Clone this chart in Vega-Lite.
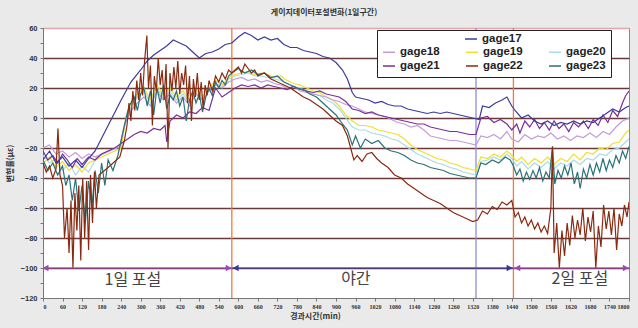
{
"$schema":"https://vega.github.io/schema/vega-lite/v6.json",
"width":586,"height":270,
"autosize":{"type":"none"},
"padding":{"left":43,"top":28,"right":9,"bottom":30},
"background":"#eaeaea",
"title":{"text":"게이지데이터포설변화(1일구간)","fontSize":8,"fontWeight":"bold","color":"#333","offset":7,"anchor":"middle","dx":-12,"font":"Noto Sans CJK KR"},
"config":{"view":{"fill":"white","stroke":"#8a8a8a","strokeWidth":1},
"axis":{"labelFont":"Liberation Sans","labelFontWeight":"bold","labelColor":"#333","domainColor":"#777","tickColor":"#777","titleFont":"Noto Sans CJK KR","titleFontWeight":"bold","titleColor":"#333","titleFontSize":8,"labelOverlap":false,"labelBound":false}},
"datasets":{
"vlines":[{"t":580,"v":-120,"v2":60,"c":"#f07a3a"},{"t":1330,"v":-120,"v2":60,"c":"#8e8ed4"},{"t":1445,"v":-120,"v2":60,"c":"#f07a3a"}],
"arrows":[{"t":0,"t2":580,"v":-100,"c":"#a344b8"},{"t":580,"t2":1445,"v":-100,"c":"#3636a6"},{"t":1445,"t2":1800,"v":-100,"c":"#a344b8"}],
"heads":[{"t":8,"v":-100,"sh":"triangle-left","c":"#a344b8"},{"t":570,"v":-100,"sh":"triangle-right","c":"#a344b8"},{"t":592,"v":-100,"sh":"triangle-left","c":"#3636a6"},{"t":1433,"v":-100,"sh":"triangle-right","c":"#3636a6"},{"t":1457,"v":-100,"sh":"triangle-left","c":"#a344b8"},{"t":1790,"v":-100,"sh":"triangle-right","c":"#a344b8"}],
"labels":[{"t":276,"v":-108,"txt":"1일 포설"},{"t":961,"v":-107,"txt":"야간"},{"t":1649,"v":-107,"txt":"2일 포설"}],
"g17":[
{"s":"gage17","t":0,"v":-28},{"s":"gage17","t":20,"v":-22},{"s":"gage17","t":40,"v":-30},{"s":"gage17","t":60,"v":-26},{"s":"gage17","t":80,"v":-32},{"s":"gage17","t":100,"v":-28},{"s":"gage17","t":120,"v":-33},{"s":"gage17","t":140,"v":-27},{"s":"gage17","t":160,"v":-22},{"s":"gage17","t":200,"v":-5},{"s":"gage17","t":240,"v":12},{"s":"gage17","t":270,"v":24},{"s":"gage17","t":300,"v":32},{"s":"gage17","t":320,"v":38},{"s":"gage17","t":340,"v":42},{"s":"gage17","t":360,"v":45},{"s":"gage17","t":380,"v":48},{"s":"gage17","t":400,"v":52},{"s":"gage17","t":420,"v":50},{"s":"gage17","t":440,"v":48},{"s":"gage17","t":460,"v":44},{"s":"gage17","t":480,"v":40},{"s":"gage17","t":500,"v":43},{"s":"gage17","t":520,"v":44},{"s":"gage17","t":540,"v":46},{"s":"gage17","t":560,"v":49},{"s":"gage17","t":580,"v":50},{"s":"gage17","t":600,"v":54},{"s":"gage17","t":620,"v":57},{"s":"gage17","t":640,"v":55},{"s":"gage17","t":660,"v":52},{"s":"gage17","t":680,"v":54},{"s":"gage17","t":700,"v":52},{"s":"gage17","t":720,"v":53},{"s":"gage17","t":740,"v":49},{"s":"gage17","t":760,"v":47},{"s":"gage17","t":780,"v":47},{"s":"gage17","t":800,"v":45},{"s":"gage17","t":820,"v":44},{"s":"gage17","t":840,"v":43},{"s":"gage17","t":860,"v":41},{"s":"gage17","t":880,"v":40},{"s":"gage17","t":900,"v":37},{"s":"gage17","t":920,"v":32},{"s":"gage17","t":935,"v":26},{"s":"gage17","t":950,"v":17},{"s":"gage17","t":960,"v":14},{"s":"gage17","t":980,"v":13},{"s":"gage17","t":1000,"v":12},{"s":"gage17","t":1020,"v":10},{"s":"gage17","t":1040,"v":11},{"s":"gage17","t":1060,"v":9},{"s":"gage17","t":1080,"v":8},{"s":"gage17","t":1100,"v":8},{"s":"gage17","t":1120,"v":6},{"s":"gage17","t":1140,"v":5},{"s":"gage17","t":1160,"v":4},{"s":"gage17","t":1180,"v":3},{"s":"gage17","t":1200,"v":4},{"s":"gage17","t":1220,"v":3},{"s":"gage17","t":1240,"v":4},{"s":"gage17","t":1260,"v":3},{"s":"gage17","t":1280,"v":2},{"s":"gage17","t":1300,"v":1},{"s":"gage17","t":1320,"v":0},{"s":"gage17","t":1340,"v":-1},{"s":"gage17","t":1350,"v":8},{"s":"gage17","t":1370,"v":7},{"s":"gage17","t":1390,"v":10},{"s":"gage17","t":1410,"v":12},{"s":"gage17","t":1425,"v":14},{"s":"gage17","t":1440,"v":8},{"s":"gage17","t":1450,"v":5},{"s":"gage17","t":1470,"v":0},{"s":"gage17","t":1490,"v":2},{"s":"gage17","t":1510,"v":-2},{"s":"gage17","t":1530,"v":-4},{"s":"gage17","t":1550,"v":-2},{"s":"gage17","t":1570,"v":-5},{"s":"gage17","t":1590,"v":-3},{"s":"gage17","t":1610,"v":-4},{"s":"gage17","t":1630,"v":-2},{"s":"gage17","t":1650,"v":-4},{"s":"gage17","t":1670,"v":-2},{"s":"gage17","t":1690,"v":-3},{"s":"gage17","t":1710,"v":0},{"s":"gage17","t":1730,"v":3},{"s":"gage17","t":1750,"v":6},{"s":"gage17","t":1770,"v":4},{"s":"gage17","t":1790,"v":7},{"s":"gage17","t":1800,"v":8}],
"others":[
{"s":"gage20","t":0,"v":-25},{"s":"gage20","t":20,"v":-30},{"s":"gage20","t":40,"v":-27},{"s":"gage20","t":60,"v":-35},{"s":"gage20","t":80,"v":-30},{"s":"gage20","t":100,"v":-38},{"s":"gage20","t":120,"v":-32},{"s":"gage20","t":140,"v":-36},{"s":"gage20","t":166,"v":-26},{"s":"gage20","t":236,"v":-19},{"s":"gage20","t":255,"v":-2},{"s":"gage20","t":270,"v":8},{"s":"gage20","t":290,"v":14},{"s":"gage20","t":310,"v":18},{"s":"gage20","t":330,"v":10},{"s":"gage20","t":350,"v":20},{"s":"gage20","t":370,"v":13},{"s":"gage20","t":390,"v":18},{"s":"gage20","t":410,"v":12},{"s":"gage20","t":430,"v":16},{"s":"gage20","t":450,"v":10},{"s":"gage20","t":470,"v":17},{"s":"gage20","t":490,"v":12},{"s":"gage20","t":510,"v":18},{"s":"gage20","t":530,"v":23},{"s":"gage20","t":550,"v":21},{"s":"gage20","t":570,"v":26},{"s":"gage20","t":590,"v":28},{"s":"gage20","t":610,"v":29},{"s":"gage20","t":630,"v":30},{"s":"gage20","t":650,"v":28},{"s":"gage20","t":670,"v":28},{"s":"gage20","t":690,"v":27},{"s":"gage20","t":710,"v":26},{"s":"gage20","t":730,"v":25},{"s":"gage20","t":750,"v":23},{"s":"gage20","t":770,"v":21},{"s":"gage20","t":790,"v":20},{"s":"gage20","t":810,"v":18},{"s":"gage20","t":830,"v":16},{"s":"gage20","t":850,"v":15},{"s":"gage20","t":870,"v":12},{"s":"gage20","t":890,"v":10},{"s":"gage20","t":910,"v":6},{"s":"gage20","t":930,"v":0},{"s":"gage20","t":950,"v":-6},{"s":"gage20","t":970,"v":-8},{"s":"gage20","t":990,"v":-8},{"s":"gage20","t":1010,"v":-10},{"s":"gage20","t":1030,"v":-11},{"s":"gage20","t":1050,"v":-12},{"s":"gage20","t":1070,"v":-14},{"s":"gage20","t":1090,"v":-15},{"s":"gage20","t":1110,"v":-18},{"s":"gage20","t":1130,"v":-21},{"s":"gage20","t":1150,"v":-24},{"s":"gage20","t":1170,"v":-26},{"s":"gage20","t":1190,"v":-28},{"s":"gage20","t":1210,"v":-30},{"s":"gage20","t":1230,"v":-31},{"s":"gage20","t":1250,"v":-33},{"s":"gage20","t":1270,"v":-34},{"s":"gage20","t":1290,"v":-36},{"s":"gage20","t":1310,"v":-37},{"s":"gage20","t":1330,"v":-38},{"s":"gage20","t":1345,"v":-29},{"s":"gage20","t":1365,"v":-28},{"s":"gage20","t":1385,"v":-26},{"s":"gage20","t":1405,"v":-28},{"s":"gage20","t":1425,"v":-24},{"s":"gage20","t":1440,"v":-27},{"s":"gage20","t":1455,"v":-32},{"s":"gage20","t":1470,"v":-29},{"s":"gage20","t":1490,"v":-34},{"s":"gage20","t":1510,"v":-30},{"s":"gage20","t":1530,"v":-33},{"s":"gage20","t":1550,"v":-29},{"s":"gage20","t":1570,"v":-34},{"s":"gage20","t":1590,"v":-30},{"s":"gage20","t":1610,"v":-32},{"s":"gage20","t":1630,"v":-28},{"s":"gage20","t":1650,"v":-31},{"s":"gage20","t":1670,"v":-27},{"s":"gage20","t":1690,"v":-28},{"s":"gage20","t":1710,"v":-24},{"s":"gage20","t":1730,"v":-25},{"s":"gage20","t":1750,"v":-21},{"s":"gage20","t":1770,"v":-20},{"s":"gage20","t":1790,"v":-16},{"s":"gage20","t":1800,"v":-14},
{"s":"gage19","t":0,"v":-30},{"s":"gage19","t":20,"v":-26},{"s":"gage19","t":40,"v":-33},{"s":"gage19","t":60,"v":-29},{"s":"gage19","t":80,"v":-35},{"s":"gage19","t":100,"v":-31},{"s":"gage19","t":120,"v":-36},{"s":"gage19","t":140,"v":-30},{"s":"gage19","t":160,"v":-28},{"s":"gage19","t":200,"v":-24},{"s":"gage19","t":240,"v":-20},{"s":"gage19","t":255,"v":0},{"s":"gage19","t":270,"v":10},{"s":"gage19","t":290,"v":16},{"s":"gage19","t":310,"v":20},{"s":"gage19","t":330,"v":12},{"s":"gage19","t":350,"v":22},{"s":"gage19","t":370,"v":15},{"s":"gage19","t":390,"v":20},{"s":"gage19","t":410,"v":14},{"s":"gage19","t":430,"v":18},{"s":"gage19","t":450,"v":12},{"s":"gage19","t":470,"v":19},{"s":"gage19","t":490,"v":14},{"s":"gage19","t":510,"v":20},{"s":"gage19","t":530,"v":25},{"s":"gage19","t":550,"v":22},{"s":"gage19","t":570,"v":27},{"s":"gage19","t":590,"v":29},{"s":"gage19","t":610,"v":30},{"s":"gage19","t":630,"v":31},{"s":"gage19","t":650,"v":29},{"s":"gage19","t":670,"v":30},{"s":"gage19","t":690,"v":29},{"s":"gage19","t":710,"v":27},{"s":"gage19","t":730,"v":28},{"s":"gage19","t":750,"v":25},{"s":"gage19","t":770,"v":23},{"s":"gage19","t":790,"v":22},{"s":"gage19","t":810,"v":20},{"s":"gage19","t":830,"v":18},{"s":"gage19","t":850,"v":17},{"s":"gage19","t":870,"v":14},{"s":"gage19","t":890,"v":12},{"s":"gage19","t":910,"v":8},{"s":"gage19","t":930,"v":2},{"s":"gage19","t":950,"v":-2},{"s":"gage19","t":970,"v":-5},{"s":"gage19","t":990,"v":-5},{"s":"gage19","t":1010,"v":-6},{"s":"gage19","t":1030,"v":-8},{"s":"gage19","t":1050,"v":-9},{"s":"gage19","t":1070,"v":-10},{"s":"gage19","t":1090,"v":-11},{"s":"gage19","t":1110,"v":-14},{"s":"gage19","t":1130,"v":-18},{"s":"gage19","t":1150,"v":-21},{"s":"gage19","t":1170,"v":-23},{"s":"gage19","t":1190,"v":-25},{"s":"gage19","t":1210,"v":-27},{"s":"gage19","t":1230,"v":-28},{"s":"gage19","t":1250,"v":-30},{"s":"gage19","t":1270,"v":-31},{"s":"gage19","t":1290,"v":-33},{"s":"gage19","t":1310,"v":-34},{"s":"gage19","t":1330,"v":-35},{"s":"gage19","t":1345,"v":-26},{"s":"gage19","t":1365,"v":-27},{"s":"gage19","t":1385,"v":-24},{"s":"gage19","t":1405,"v":-26},{"s":"gage19","t":1425,"v":-22},{"s":"gage19","t":1440,"v":-25},{"s":"gage19","t":1455,"v":-29},{"s":"gage19","t":1470,"v":-26},{"s":"gage19","t":1490,"v":-31},{"s":"gage19","t":1510,"v":-27},{"s":"gage19","t":1530,"v":-30},{"s":"gage19","t":1550,"v":-26},{"s":"gage19","t":1570,"v":-31},{"s":"gage19","t":1590,"v":-27},{"s":"gage19","t":1610,"v":-29},{"s":"gage19","t":1630,"v":-24},{"s":"gage19","t":1650,"v":-28},{"s":"gage19","t":1670,"v":-23},{"s":"gage19","t":1690,"v":-24},{"s":"gage19","t":1710,"v":-20},{"s":"gage19","t":1730,"v":-21},{"s":"gage19","t":1750,"v":-17},{"s":"gage19","t":1770,"v":-16},{"s":"gage19","t":1790,"v":-10},{"s":"gage19","t":1800,"v":-8},
{"s":"gage18","t":0,"v":-20},{"s":"gage18","t":20,"v":-18},{"s":"gage18","t":40,"v":-24},{"s":"gage18","t":60,"v":-22},{"s":"gage18","t":80,"v":-26},{"s":"gage18","t":100,"v":-23},{"s":"gage18","t":120,"v":-27},{"s":"gage18","t":140,"v":-24},{"s":"gage18","t":160,"v":-26},{"s":"gage18","t":200,"v":-22},{"s":"gage18","t":236,"v":-19},{"s":"gage18","t":250,"v":-5},{"s":"gage18","t":270,"v":5},{"s":"gage18","t":290,"v":10},{"s":"gage18","t":310,"v":14},{"s":"gage18","t":330,"v":8},{"s":"gage18","t":350,"v":18},{"s":"gage18","t":370,"v":12},{"s":"gage18","t":390,"v":16},{"s":"gage18","t":410,"v":10},{"s":"gage18","t":430,"v":14},{"s":"gage18","t":450,"v":8},{"s":"gage18","t":470,"v":16},{"s":"gage18","t":490,"v":12},{"s":"gage18","t":510,"v":18},{"s":"gage18","t":530,"v":22},{"s":"gage18","t":550,"v":20},{"s":"gage18","t":570,"v":24},{"s":"gage18","t":590,"v":26},{"s":"gage18","t":610,"v":27},{"s":"gage18","t":630,"v":25},{"s":"gage18","t":650,"v":26},{"s":"gage18","t":670,"v":24},{"s":"gage18","t":690,"v":25},{"s":"gage18","t":710,"v":23},{"s":"gage18","t":730,"v":22},{"s":"gage18","t":750,"v":20},{"s":"gage18","t":770,"v":21},{"s":"gage18","t":790,"v":18},{"s":"gage18","t":810,"v":17},{"s":"gage18","t":830,"v":16},{"s":"gage18","t":850,"v":15},{"s":"gage18","t":870,"v":14},{"s":"gage18","t":890,"v":12},{"s":"gage18","t":910,"v":11},{"s":"gage18","t":930,"v":9},{"s":"gage18","t":950,"v":8},{"s":"gage18","t":970,"v":6},{"s":"gage18","t":990,"v":4},{"s":"gage18","t":1010,"v":3},{"s":"gage18","t":1030,"v":2},{"s":"gage18","t":1050,"v":1},{"s":"gage18","t":1070,"v":-1},{"s":"gage18","t":1090,"v":-3},{"s":"gage18","t":1110,"v":-4},{"s":"gage18","t":1130,"v":-6},{"s":"gage18","t":1150,"v":-5},{"s":"gage18","t":1170,"v":-8},{"s":"gage18","t":1190,"v":-12},{"s":"gage18","t":1210,"v":-13},{"s":"gage18","t":1230,"v":-14},{"s":"gage18","t":1250,"v":-15},{"s":"gage18","t":1270,"v":-15},{"s":"gage18","t":1290,"v":-16},{"s":"gage18","t":1310,"v":-17},{"s":"gage18","t":1330,"v":-18},{"s":"gage18","t":1345,"v":-12},{"s":"gage18","t":1365,"v":-13},{"s":"gage18","t":1385,"v":-11},{"s":"gage18","t":1405,"v":-14},{"s":"gage18","t":1425,"v":-9},{"s":"gage18","t":1440,"v":-14},{"s":"gage18","t":1460,"v":-16},{"s":"gage18","t":1480,"v":-11},{"s":"gage18","t":1500,"v":-14},{"s":"gage18","t":1520,"v":-12},{"s":"gage18","t":1540,"v":-13},{"s":"gage18","t":1560,"v":-10},{"s":"gage18","t":1580,"v":-14},{"s":"gage18","t":1600,"v":-12},{"s":"gage18","t":1620,"v":-15},{"s":"gage18","t":1640,"v":-12},{"s":"gage18","t":1660,"v":-13},{"s":"gage18","t":1680,"v":-10},{"s":"gage18","t":1700,"v":-13},{"s":"gage18","t":1720,"v":-9},{"s":"gage18","t":1740,"v":-11},{"s":"gage18","t":1760,"v":-6},{"s":"gage18","t":1780,"v":-2},{"s":"gage18","t":1800,"v":0},
{"s":"gage21","t":0,"v":-22},{"s":"gage21","t":15,"v":-28},{"s":"gage21","t":30,"v":-25},{"s":"gage21","t":45,"v":-30},{"s":"gage21","t":60,"v":-24},{"s":"gage21","t":75,"v":-28},{"s":"gage21","t":90,"v":-33},{"s":"gage21","t":105,"v":-27},{"s":"gage21","t":120,"v":-31},{"s":"gage21","t":140,"v":-26},{"s":"gage21","t":160,"v":-28},{"s":"gage21","t":180,"v":-24},{"s":"gage21","t":200,"v":-22},{"s":"gage21","t":220,"v":-20},{"s":"gage21","t":240,"v":-17},{"s":"gage21","t":260,"v":-14},{"s":"gage21","t":280,"v":-11},{"s":"gage21","t":300,"v":-9},{"s":"gage21","t":320,"v":-10},{"s":"gage21","t":340,"v":-7},{"s":"gage21","t":360,"v":-8},{"s":"gage21","t":375,"v":-5},{"s":"gage21","t":380,"v":-16},{"s":"gage21","t":390,"v":-2},{"s":"gage21","t":410,"v":2},{"s":"gage21","t":430,"v":0},{"s":"gage21","t":450,"v":4},{"s":"gage21","t":470,"v":3},{"s":"gage21","t":490,"v":7},{"s":"gage21","t":510,"v":5},{"s":"gage21","t":530,"v":20},{"s":"gage21","t":550,"v":14},{"s":"gage21","t":570,"v":17},{"s":"gage21","t":590,"v":20},{"s":"gage21","t":610,"v":22},{"s":"gage21","t":630,"v":21},{"s":"gage21","t":650,"v":22},{"s":"gage21","t":670,"v":20},{"s":"gage21","t":690,"v":22},{"s":"gage21","t":710,"v":21},{"s":"gage21","t":730,"v":20},{"s":"gage21","t":750,"v":19},{"s":"gage21","t":770,"v":21},{"s":"gage21","t":790,"v":19},{"s":"gage21","t":810,"v":18},{"s":"gage21","t":830,"v":17},{"s":"gage21","t":850,"v":18},{"s":"gage21","t":870,"v":16},{"s":"gage21","t":890,"v":15},{"s":"gage21","t":910,"v":14},{"s":"gage21","t":930,"v":11},{"s":"gage21","t":950,"v":6},{"s":"gage21","t":970,"v":5},{"s":"gage21","t":990,"v":3},{"s":"gage21","t":1010,"v":4},{"s":"gage21","t":1030,"v":2},{"s":"gage21","t":1050,"v":1},{"s":"gage21","t":1070,"v":0},{"s":"gage21","t":1090,"v":-1},{"s":"gage21","t":1110,"v":-2},{"s":"gage21","t":1130,"v":-3},{"s":"gage21","t":1150,"v":-4},{"s":"gage21","t":1170,"v":-4},{"s":"gage21","t":1190,"v":-6},{"s":"gage21","t":1210,"v":-7},{"s":"gage21","t":1230,"v":-8},{"s":"gage21","t":1250,"v":-9},{"s":"gage21","t":1270,"v":-9},{"s":"gage21","t":1290,"v":-10},{"s":"gage21","t":1310,"v":-11},{"s":"gage21","t":1330,"v":-11},{"s":"gage21","t":1345,"v":0},{"s":"gage21","t":1365,"v":1},{"s":"gage21","t":1385,"v":-3},{"s":"gage21","t":1405,"v":-1},{"s":"gage21","t":1425,"v":-4},{"s":"gage21","t":1440,"v":-8},{"s":"gage21","t":1455,"v":-4},{"s":"gage21","t":1465,"v":-10},{"s":"gage21","t":1480,"v":-2},{"s":"gage21","t":1495,"v":-6},{"s":"gage21","t":1510,"v":-1},{"s":"gage21","t":1525,"v":-7},{"s":"gage21","t":1540,"v":-3},{"s":"gage21","t":1555,"v":-8},{"s":"gage21","t":1570,"v":-2},{"s":"gage21","t":1585,"v":-7},{"s":"gage21","t":1600,"v":-4},{"s":"gage21","t":1615,"v":-9},{"s":"gage21","t":1630,"v":-3},{"s":"gage21","t":1645,"v":-6},{"s":"gage21","t":1660,"v":-2},{"s":"gage21","t":1675,"v":-7},{"s":"gage21","t":1690,"v":-1},{"s":"gage21","t":1705,"v":-5},{"s":"gage21","t":1720,"v":2},{"s":"gage21","t":1735,"v":-3},{"s":"gage21","t":1750,"v":5},{"s":"gage21","t":1765,"v":1},{"s":"gage21","t":1780,"v":10},{"s":"gage21","t":1790,"v":15},{"s":"gage21","t":1800,"v":18},
{"s":"gage23","t":0,"v":-28},{"s":"gage23","t":15,"v":-35},{"s":"gage23","t":30,"v":-30},{"s":"gage23","t":45,"v":-38},{"s":"gage23","t":60,"v":-32},{"s":"gage23","t":70,"v":-45},{"s":"gage23","t":80,"v":-38},{"s":"gage23","t":90,"v":-55},{"s":"gage23","t":100,"v":-40},{"s":"gage23","t":110,"v":-62},{"s":"gage23","t":120,"v":-45},{"s":"gage23","t":130,"v":-70},{"s":"gage23","t":140,"v":-42},{"s":"gage23","t":150,"v":-60},{"s":"gage23","t":160,"v":-35},{"s":"gage23","t":170,"v":-50},{"s":"gage23","t":180,"v":-30},{"s":"gage23","t":190,"v":-45},{"s":"gage23","t":200,"v":-28},{"s":"gage23","t":215,"v":-35},{"s":"gage23","t":230,"v":-25},{"s":"gage23","t":245,"v":-10},{"s":"gage23","t":255,"v":0},{"s":"gage23","t":265,"v":8},{"s":"gage23","t":280,"v":14},{"s":"gage23","t":290,"v":5},{"s":"gage23","t":300,"v":16},{"s":"gage23","t":310,"v":20},{"s":"gage23","t":320,"v":8},{"s":"gage23","t":330,"v":18},{"s":"gage23","t":340,"v":2},{"s":"gage23","t":350,"v":20},{"s":"gage23","t":360,"v":10},{"s":"gage23","t":370,"v":22},{"s":"gage23","t":380,"v":6},{"s":"gage23","t":390,"v":15},{"s":"gage23","t":400,"v":12},{"s":"gage23","t":410,"v":18},{"s":"gage23","t":420,"v":8},{"s":"gage23","t":430,"v":14},{"s":"gage23","t":440,"v":-2},{"s":"gage23","t":450,"v":12},{"s":"gage23","t":460,"v":18},{"s":"gage23","t":470,"v":10},{"s":"gage23","t":480,"v":16},{"s":"gage23","t":490,"v":4},{"s":"gage23","t":500,"v":14},{"s":"gage23","t":510,"v":20},{"s":"gage23","t":520,"v":15},{"s":"gage23","t":530,"v":24},{"s":"gage23","t":540,"v":20},{"s":"gage23","t":550,"v":25},{"s":"gage23","t":560,"v":22},{"s":"gage23","t":570,"v":28},{"s":"gage23","t":580,"v":30},{"s":"gage23","t":600,"v":33},{"s":"gage23","t":620,"v":30},{"s":"gage23","t":640,"v":32},{"s":"gage23","t":660,"v":29},{"s":"gage23","t":680,"v":30},{"s":"gage23","t":700,"v":27},{"s":"gage23","t":720,"v":28},{"s":"gage23","t":740,"v":24},{"s":"gage23","t":760,"v":22},{"s":"gage23","t":780,"v":20},{"s":"gage23","t":800,"v":19},{"s":"gage23","t":820,"v":16},{"s":"gage23","t":840,"v":14},{"s":"gage23","t":860,"v":10},{"s":"gage23","t":880,"v":6},{"s":"gage23","t":900,"v":2},{"s":"gage23","t":920,"v":-4},{"s":"gage23","t":935,"v":-8},{"s":"gage23","t":950,"v":-18},{"s":"gage23","t":960,"v":-12},{"s":"gage23","t":975,"v":-20},{"s":"gage23","t":990,"v":-14},{"s":"gage23","t":1010,"v":-17},{"s":"gage23","t":1030,"v":-15},{"s":"gage23","t":1050,"v":-20},{"s":"gage23","t":1070,"v":-22},{"s":"gage23","t":1090,"v":-23},{"s":"gage23","t":1110,"v":-25},{"s":"gage23","t":1130,"v":-28},{"s":"gage23","t":1150,"v":-30},{"s":"gage23","t":1170,"v":-31},{"s":"gage23","t":1190,"v":-33},{"s":"gage23","t":1210,"v":-34},{"s":"gage23","t":1230,"v":-35},{"s":"gage23","t":1250,"v":-37},{"s":"gage23","t":1270,"v":-38},{"s":"gage23","t":1290,"v":-39},{"s":"gage23","t":1310,"v":-40},{"s":"gage23","t":1330,"v":-40},{"s":"gage23","t":1345,"v":-30},{"s":"gage23","t":1360,"v":-31},{"s":"gage23","t":1380,"v":-28},{"s":"gage23","t":1400,"v":-30},{"s":"gage23","t":1420,"v":-26},{"s":"gage23","t":1435,"v":-28},{"s":"gage23","t":1445,"v":-32},{"s":"gage23","t":1455,"v":-38},{"s":"gage23","t":1465,"v":-34},{"s":"gage23","t":1475,"v":-42},{"s":"gage23","t":1485,"v":-36},{"s":"gage23","t":1495,"v":-41},{"s":"gage23","t":1505,"v":-35},{"s":"gage23","t":1515,"v":-40},{"s":"gage23","t":1525,"v":-33},{"s":"gage23","t":1535,"v":-42},{"s":"gage23","t":1545,"v":-36},{"s":"gage23","t":1555,"v":-40},{"s":"gage23","t":1565,"v":-19},{"s":"gage23","t":1572,"v":-44},{"s":"gage23","t":1582,"v":-35},{"s":"gage23","t":1592,"v":-40},{"s":"gage23","t":1602,"v":-32},{"s":"gage23","t":1612,"v":-38},{"s":"gage23","t":1622,"v":-30},{"s":"gage23","t":1632,"v":-44},{"s":"gage23","t":1642,"v":-36},{"s":"gage23","t":1650,"v":-47},{"s":"gage23","t":1660,"v":-34},{"s":"gage23","t":1670,"v":-40},{"s":"gage23","t":1680,"v":-31},{"s":"gage23","t":1690,"v":-38},{"s":"gage23","t":1700,"v":-30},{"s":"gage23","t":1710,"v":-36},{"s":"gage23","t":1720,"v":-27},{"s":"gage23","t":1730,"v":-35},{"s":"gage23","t":1740,"v":-28},{"s":"gage23","t":1750,"v":-33},{"s":"gage23","t":1760,"v":-25},{"s":"gage23","t":1770,"v":-30},{"s":"gage23","t":1780,"v":-22},{"s":"gage23","t":1790,"v":-27},{"s":"gage23","t":1800,"v":-19},
{"s":"gage22","t":0,"v":-30},{"s":"gage22","t":10,"v":-36},{"s":"gage22","t":20,"v":-32},{"s":"gage22","t":30,"v":-40},{"s":"gage22","t":40,"v":-34},{"s":"gage22","t":46,"v":-7},{"s":"gage22","t":52,"v":-38},{"s":"gage22","t":60,"v":-45},{"s":"gage22","t":66,"v":-80},{"s":"gage22","t":74,"v":-60},{"s":"gage22","t":80,"v":-90},{"s":"gage22","t":86,"v":-55},{"s":"gage22","t":92,"v":-100},{"s":"gage22","t":98,"v":-50},{"s":"gage22","t":104,"v":-75},{"s":"gage22","t":110,"v":-45},{"s":"gage22","t":116,"v":-95},{"s":"gage22","t":122,"v":-40},{"s":"gage22","t":128,"v":-80},{"s":"gage22","t":134,"v":-42},{"s":"gage22","t":140,"v":-88},{"s":"gage22","t":146,"v":-38},{"s":"gage22","t":152,"v":-70},{"s":"gage22","t":158,"v":-36},{"s":"gage22","t":164,"v":-60},{"s":"gage22","t":172,"v":-38},{"s":"gage22","t":200,"v":-33},{"s":"gage22","t":236,"v":-26},{"s":"gage22","t":250,"v":-15},{"s":"gage22","t":258,"v":-5},{"s":"gage22","t":264,"v":10},{"s":"gage22","t":270,"v":-2},{"s":"gage22","t":276,"v":18},{"s":"gage22","t":282,"v":5},{"s":"gage22","t":288,"v":25},{"s":"gage22","t":294,"v":12},{"s":"gage22","t":300,"v":30},{"s":"gage22","t":306,"v":15},{"s":"gage22","t":312,"v":38},{"s":"gage22","t":319,"v":55},{"s":"gage22","t":324,"v":20},{"s":"gage22","t":330,"v":35},{"s":"gage22","t":336,"v":-5},{"s":"gage22","t":342,"v":28},{"s":"gage22","t":348,"v":18},{"s":"gage22","t":354,"v":40},{"s":"gage22","t":360,"v":22},{"s":"gage22","t":366,"v":32},{"s":"gage22","t":372,"v":12},{"s":"gage22","t":378,"v":36},{"s":"gage22","t":384,"v":-20},{"s":"gage22","t":390,"v":30},{"s":"gage22","t":396,"v":18},{"s":"gage22","t":402,"v":34},{"s":"gage22","t":408,"v":20},{"s":"gage22","t":414,"v":38},{"s":"gage22","t":420,"v":16},{"s":"gage22","t":426,"v":30},{"s":"gage22","t":432,"v":22},{"s":"gage22","t":438,"v":35},{"s":"gage22","t":444,"v":10},{"s":"gage22","t":450,"v":28},{"s":"gage22","t":456,"v":-2},{"s":"gage22","t":462,"v":26},{"s":"gage22","t":468,"v":14},{"s":"gage22","t":474,"v":30},{"s":"gage22","t":480,"v":12},{"s":"gage22","t":486,"v":24},{"s":"gage22","t":492,"v":6},{"s":"gage22","t":498,"v":22},{"s":"gage22","t":504,"v":15},{"s":"gage22","t":510,"v":25},{"s":"gage22","t":520,"v":18},{"s":"gage22","t":530,"v":28},{"s":"gage22","t":540,"v":24},{"s":"gage22","t":550,"v":30},{"s":"gage22","t":560,"v":26},{"s":"gage22","t":570,"v":32},{"s":"gage22","t":580,"v":30},{"s":"gage22","t":590,"v":32},{"s":"gage22","t":600,"v":34},{"s":"gage22","t":610,"v":30},{"s":"gage22","t":620,"v":36},{"s":"gage22","t":630,"v":33},{"s":"gage22","t":640,"v":30},{"s":"gage22","t":650,"v":32},{"s":"gage22","t":660,"v":28},{"s":"gage22","t":680,"v":30},{"s":"gage22","t":700,"v":26},{"s":"gage22","t":720,"v":24},{"s":"gage22","t":740,"v":22},{"s":"gage22","t":760,"v":20},{"s":"gage22","t":780,"v":17},{"s":"gage22","t":800,"v":14},{"s":"gage22","t":820,"v":12},{"s":"gage22","t":840,"v":9},{"s":"gage22","t":860,"v":6},{"s":"gage22","t":880,"v":2},{"s":"gage22","t":900,"v":-2},{"s":"gage22","t":920,"v":-5},{"s":"gage22","t":935,"v":-12},{"s":"gage22","t":945,"v":-20},{"s":"gage22","t":955,"v":-28},{"s":"gage22","t":965,"v":-25},{"s":"gage22","t":980,"v":-29},{"s":"gage22","t":995,"v":-24},{"s":"gage22","t":1010,"v":-23},{"s":"gage22","t":1025,"v":-27},{"s":"gage22","t":1040,"v":-30},{"s":"gage22","t":1060,"v":-33},{"s":"gage22","t":1080,"v":-38},{"s":"gage22","t":1100,"v":-40},{"s":"gage22","t":1120,"v":-44},{"s":"gage22","t":1140,"v":-47},{"s":"gage22","t":1160,"v":-50},{"s":"gage22","t":1180,"v":-53},{"s":"gage22","t":1200,"v":-55},{"s":"gage22","t":1220,"v":-57},{"s":"gage22","t":1240,"v":-60},{"s":"gage22","t":1260,"v":-63},{"s":"gage22","t":1280,"v":-65},{"s":"gage22","t":1300,"v":-67},{"s":"gage22","t":1320,"v":-69},{"s":"gage22","t":1335,"v":-68},{"s":"gage22","t":1350,"v":-62},{"s":"gage22","t":1365,"v":-64},{"s":"gage22","t":1380,"v":-59},{"s":"gage22","t":1395,"v":-61},{"s":"gage22","t":1410,"v":-56},{"s":"gage22","t":1425,"v":-58},{"s":"gage22","t":1440,"v":-55},{"s":"gage22","t":1450,"v":-66},{"s":"gage22","t":1460,"v":-63},{"s":"gage22","t":1470,"v":-70},{"s":"gage22","t":1480,"v":-66},{"s":"gage22","t":1490,"v":-72},{"s":"gage22","t":1500,"v":-68},{"s":"gage22","t":1510,"v":-74},{"s":"gage22","t":1520,"v":-70},{"s":"gage22","t":1530,"v":-76},{"s":"gage22","t":1540,"v":-72},{"s":"gage22","t":1550,"v":-77},{"s":"gage22","t":1560,"v":-60},{"s":"gage22","t":1565,"v":-19},{"s":"gage22","t":1570,"v":-90},{"s":"gage22","t":1578,"v":-70},{"s":"gage22","t":1586,"v":-100},{"s":"gage22","t":1594,"v":-75},{"s":"gage22","t":1602,"v":-92},{"s":"gage22","t":1610,"v":-70},{"s":"gage22","t":1618,"v":-85},{"s":"gage22","t":1626,"v":-65},{"s":"gage22","t":1634,"v":-80},{"s":"gage22","t":1642,"v":-68},{"s":"gage22","t":1650,"v":-78},{"s":"gage22","t":1658,"v":-60},{"s":"gage22","t":1666,"v":-82},{"s":"gage22","t":1674,"v":-66},{"s":"gage22","t":1682,"v":-76},{"s":"gage22","t":1690,"v":-62},{"s":"gage22","t":1698,"v":-100},{"s":"gage22","t":1706,"v":-72},{"s":"gage22","t":1714,"v":-86},{"s":"gage22","t":1722,"v":-58},{"s":"gage22","t":1730,"v":-74},{"s":"gage22","t":1738,"v":-62},{"s":"gage22","t":1746,"v":-78},{"s":"gage22","t":1754,"v":-60},{"s":"gage22","t":1762,"v":-88},{"s":"gage22","t":1770,"v":-64},{"s":"gage22","t":1778,"v":-72},{"s":"gage22","t":1786,"v":-58},{"s":"gage22","t":1794,"v":-66},{"s":"gage22","t":1800,"v":-56}]
},
"encoding":{
  "x":{"field":"t","type":"quantitative","scale":{"domain":[0,1800],"nice":false},"title":"경과시간(min)",
    "axis":{"values":[0,60,120,180,240,300,360,420,480,540,600,660,720,780,840,900,960,1020,1080,1140,1200,1260,1320,1380,1440,1500,1560,1620,1680,1740,1800],"format":"d","labelFont":"Liberation Sans Narrow","labelFontSize":6,"labelOverlap":false,"labelAngle":0,"grid":false,"tickSize":3,"labelPadding":2,"titleX":272,"titleY":14,"titleAnchor":"middle"}},
  "y":{"field":"v","type":"quantitative","scale":{"domain":[-120,60],"nice":false},"title":"변형률(με)",
    "axis":{"values":[-120,-110,-100,-90,-80,-70,-60,-50,-40,-30,-20,-10,0,10,20,30,40,50,60],"labelExpr":"datum.value % 20 == 0 ? datum.label : ''","labelOverlap":false,"labelFontSize":7.5,"tickSize":3,"labelPadding":3,"titlePadding":6,
      "grid":true,"gridWidth":1.6,
      "gridColor":{"condition":{"test":"datum.value == 60","value":"#e0a8a8"},"value":"#6a3a3a"},
      "gridOpacity":{"condition":{"test":"datum.value % 20 != 0 || datum.value == -120","value":0},"value":1}}}
},
"layer":[
{"data":{"name":"vlines"},"mark":{"type":"rule","strokeWidth":1.3},
 "encoding":{"y2":{"field":"v2"},"color":{"field":"c","type":"nominal","scale":null}}},
{"data":{"name":"others"},"mark":{"type":"line","strokeWidth":1.2,"clip":true},
 "encoding":{
  "color":{"field":"s","type":"nominal",
    "scale":{"domain":["gage18","gage21","gage19","gage22","gage20","gage23"],"range":["#c29cdb","#7b2f9c","#f0df30","#8a2a10","#a9dbe6","#2a7279"]},
    "legend":{"orient":"none","legendX":334,"legendY":2,"zindex":0,"columns":3,"columnPadding":23,"rowPadding":1,"padding":5,"title":" ","titleFontSize":10,"titlePadding":0,"fillColor":"white","strokeColor":"#222","labelFont":"Liberation Sans","labelFontSize":11.5,"labelFontWeight":"bold","labelColor":"#222","symbolType":"stroke","symbolSize":144,"symbolStrokeWidth":1.5}}}},
{"data":{"name":"g17"},"mark":{"type":"line","strokeWidth":1.2,"clip":true},
 "encoding":{
  "stroke":{"field":"s","type":"nominal","scale":{"domain":["gage17"],"range":["#3b3b9e"]},
   "legend":{"orient":"none","legendX":421,"legendY":4,"zindex":5,"title":null,"padding":0,"labelFont":"Liberation Sans","labelFontSize":11.5,"labelFontWeight":"bold","labelColor":"#222","symbolType":"stroke","symbolSize":144,"symbolStrokeWidth":1.5}}}},
{"data":{"name":"arrows"},"mark":{"type":"rule","strokeWidth":1.2},
 "encoding":{"x2":{"field":"t2"},"color":{"field":"c","type":"nominal","scale":null}}},
{"data":{"name":"heads"},"mark":{"type":"point","filled":true,"opacity":1,"size":45},
 "encoding":{"shape":{"field":"sh","type":"nominal","scale":null},"color":{"field":"c","type":"nominal","scale":null}}},
{"data":{"name":"labels"},"mark":{"type":"text","font":"Noto Sans CJK KR","fontSize":16,"color":"#444","baseline":"middle","align":"center"},
 "encoding":{"text":{"field":"txt","type":"nominal"}}}
],
"resolve":{"scale":{"color":"independent"}}
}
